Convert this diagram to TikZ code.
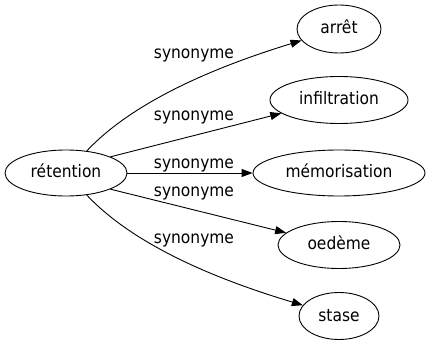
\documentclass[tikz,border=0pt]{standalone}
\usepackage{fontspec}
\setmainfont{DejaVu Sans Condensed}
\usetikzlibrary{shapes.geometric,arrows.meta}
\begin{document}
\begin{tikzpicture}[x=1pt,y=-1pt,
  font=\fontsize{17.2}{20}\selectfont,
  term/.style={ellipse, draw, line width=0.9pt, inner sep=0pt, text height=12pt, text depth=2pt},
  rel/.style={-{Triangle[length=11pt,width=8pt]}, line width=0.9pt},
  lab/.style={inner sep=0pt, text height=12pt, text depth=2pt, anchor=base}]
\useasboundingbox (0,0) rectangle (431,347);
\node[term, minimum width=122pt, minimum height=46pt] (ret) at (66,173) {rétention};
\node[term, minimum width=84pt, minimum height=48pt] (arret) at (339,29) {arrêt};
\node[term, minimum width=138pt, minimum height=47pt] (infil) at (339,100) {infiltration};
\node[term, minimum width=172pt, minimum height=46pt] (memo) at (339,173) {mémorisation};
\node[term, minimum width=122pt, minimum height=47pt] (oed) at (339,245) {oedème};
\node[term, minimum width=80pt, minimum height=47pt] (stase) at (339,316) {stase};
\draw[rel] (ret) .. controls (130,105) and (205,70) .. (arret);
\draw[rel] (ret.20) -- (infil.193);
\draw[rel] (ret) -- (memo);
\draw[rel] (ret.-20) -- (oed.167);
\draw[rel] (ret) .. controls (130,241) and (205,276) .. (stase);
\node[lab] (l1) at (194,58.3) {synonyme};
\node[lab] (l2) at (194,121) {synonyme};
\node[lab] (l3) at (194,168.3) {synonyme};
\node[lab] (l4) at (194,196.7) {synonyme};
\node[lab] (l5) at (194,243.3) {synonyme};
\end{tikzpicture}
\end{document}
